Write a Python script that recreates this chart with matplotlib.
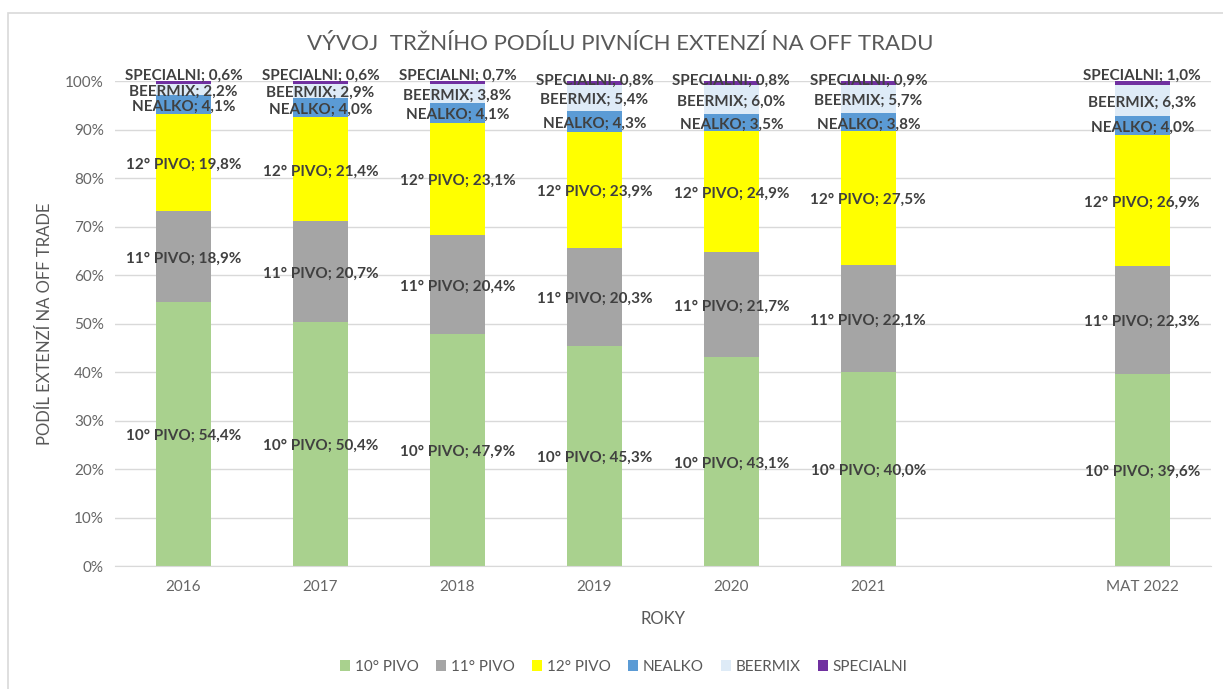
import numpy as np
import matplotlib.pyplot as plt
from matplotlib.patches import Rectangle
from matplotlib.ticker import PercentFormatter

plt.rcParams['font.family'] = ['Lato', 'DejaVu Sans']

roky = ['2016', '2017', '2018', '2019', '2020', '2021', '', 'MAT 2022']
# pozice sloupcu (prazdna kategorie mezi 2021 a MAT 2022)
pozice = [0, 1, 2, 3, 4, 5, 7]
kategorie = ['10° PIVO', '11° PIVO', '12° PIVO', 'NEALKO', 'BEERMIX', 'SPECIALNI']

pivo10 = [54.4, 50.4, 47.9, 45.3, 43.1, 40.0, 39.6]
pivo11 = [18.9, 20.7, 20.4, 20.3, 21.7, 22.1, 22.3]
pivo12 = [19.8, 21.4, 23.1, 23.9, 24.9, 27.5, 26.9]
nealko = [4.1, 4.0, 4.1, 4.3, 3.5, 3.8, 4.0]
beermix = [2.2, 2.9, 3.8, 5.4, 6.0, 5.7, 6.3]
specialni = [0.6, 0.6, 0.7, 0.8, 0.8, 0.9, 1.0]

barvy = ['#A9D18E', '#A5A5A5', '#FFFF00', '#5B9BD5', '#DEEBF7', '#7030A0']
serie = [pivo10, pivo11, pivo12, nealko, beermix, specialni]

fig = plt.figure(figsize=(12.23, 6.89), dpi=100)
ax = fig.add_axes([0.094, 0.1785, 0.896, 0.7039])

# ramecek grafu
fig.patches.append(Rectangle((8 / 1223, -0.1), 1.2, 1 - 13 / 689 + 0.1,
                             transform=fig.transFigure, fill=False,
                             edgecolor='#D9D9D9', linewidth=1.2))

dno = np.zeros(len(pozice))
for nazev, hodnoty, barva in zip(kategorie, serie, barvy):
    h = np.array(hodnoty) / 100
    ax.bar(pozice, h, width=0.4, bottom=dno, color=barva, label=nazev, zorder=2)
    for x, b, v in zip(pozice, dno, hodnoty):
        txt = f"{nazev}; {v:.1f}%".replace('.', ',')
        if nazev == 'SPECIALNI':
            off = 5 if v < 0.75 or x == 7 else 1.5
        else:
            off = -1.5
        ax.annotate(txt, (x, b + v / 200), xytext=(0, off), textcoords='offset points',
                    ha='center', va='center', fontsize=11, fontweight='bold',
                    color='#404040', zorder=3)
    dno = dno + h

ax.set_xlim(-0.5, 7.5)
ax.set_ylim(0, 1)
ax.set_xticks(range(len(roky)))
ax.set_xticklabels(roky)
ax.set_yticks(np.arange(0, 1.01, 0.1))
ax.yaxis.set_major_formatter(PercentFormatter(1.0, decimals=0))
ax.grid(axis='y', color='#D9D9D9', linewidth=1, zorder=0)
for s in ['top', 'right', 'left']:
    ax.spines[s].set_visible(False)
ax.spines['bottom'].set_color('#D9D9D9')
ax.tick_params(axis='both', length=0, labelsize=11, colors='#666666', pad=8)
ax.tick_params(axis='x', pad=10)

ax.set_ylabel('PODÍL EXTENZÍ NA OFF TRADE', fontsize=12, color='#595959', labelpad=9)
ax.set_xlabel('ROKY', fontsize=12, color='#595959', labelpad=12)
fig.suptitle('VÝVOJ  TRŽNÍHO PODÍLU PIVNÍCH EXTENZÍ NA OFF TRADU', x=0.507, y=0.95,
             fontsize=16, color='#595959')

fig.legend(loc='center', bbox_to_anchor=(0.51, 0.032), ncol=6, frameon=False,
           fontsize=11, labelcolor='#595959', handlelength=0.7, handleheight=0.7,
           handletextpad=0.3, columnspacing=1.1)

fig.savefig('out.png', dpi=100)
